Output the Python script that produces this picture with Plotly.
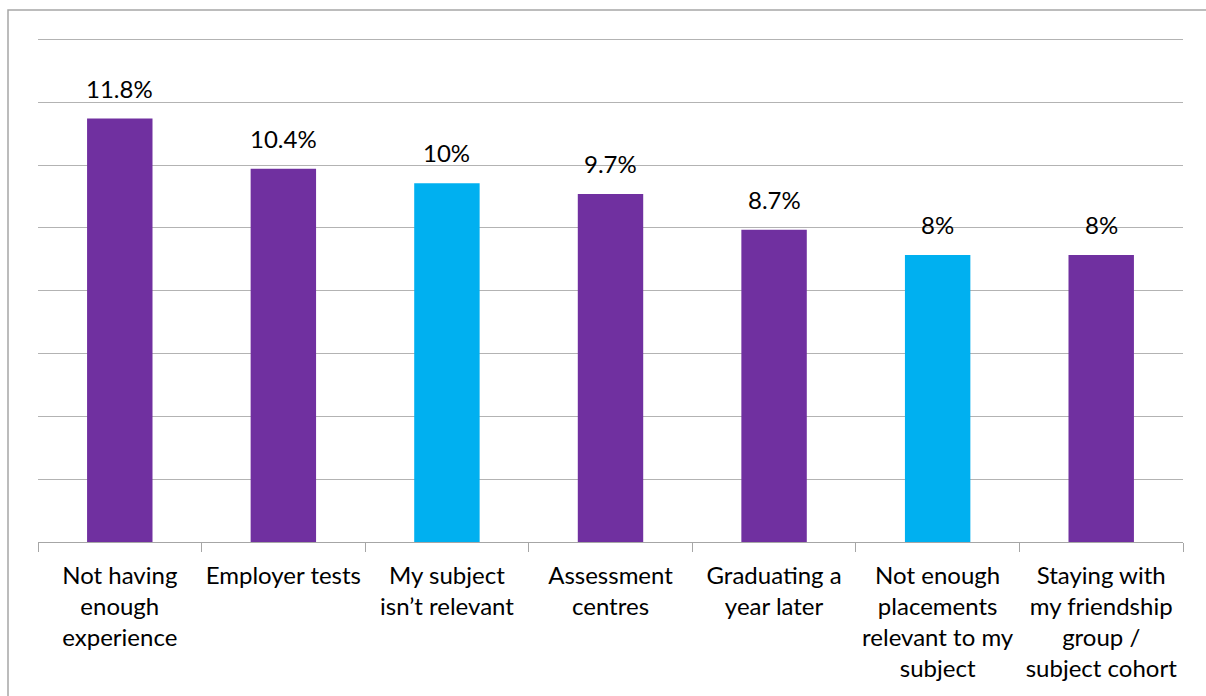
import plotly.graph_objects as go

categories = [
    "Not having<br>enough<br>experience",
    "Employer tests",
    "My subject<br>isn’t relevant",
    "Assessment<br>centres",
    "Graduating a<br>year later",
    "Not enough<br>placements<br>relevant to my<br>subject",
    "Staying with<br>my friendship<br>group /<br>subject cohort",
]
values = [11.8, 10.4, 10.0, 9.7, 8.7, 8.0, 8.0]
labels = ["11.8%", "10.4%", "10%", "9.7%", "8.7%", "8%", "8%"]
colors = ["#7030A0", "#7030A0", "#00B0F0", "#7030A0", "#7030A0", "#00B0F0", "#7030A0"]

FONT = "Lato, Noto Sans, sans-serif"

fig = go.Figure(
    go.Bar(
        x=categories,
        y=values,
        marker=dict(color=colors, line=dict(width=0)),
        hoverinfo="skip",
    )
)

annotations = [
    dict(
        x=c, y=v, text=t, xref="x", yref="y",
        showarrow=False, yanchor="bottom", yshift=14,
        font=dict(family=FONT, size=24, color="#000000"),
    )
    for c, v, t in zip(categories, values, labels)
]

fig.update_layout(
    width=1206,
    height=696,
    margin=dict(l=38, r=23, t=36, b=154),
    paper_bgcolor="white",
    plot_bgcolor="white",
    font=dict(family=FONT, size=24, color="#000000"),
    bargap=0.6,
    showlegend=False,
    annotations=annotations,
    xaxis=dict(
        type="category",
        tickson="boundaries",
        ticks="outside",
        ticklen=9,
        tickcolor="#A6A6A6",
        tickwidth=1,
        tickangle=0,
        ticklabelstandoff=12,
        automargin=False,
        showline=True,
        linecolor="#A6A6A6",
        linewidth=1,
        showgrid=False,
        tickfont=dict(size=24),
        fixedrange=True,
    ),
    yaxis=dict(
        range=[0, 14.1],
        dtick=1.75,
        tick0=0,
        showticklabels=False,
        showgrid=True,
        gridcolor="#B3B3B3",
        gridwidth=1,
        zeroline=False,
        showline=False,
        automargin=False,
        fixedrange=True,
    ),
    shapes=[
        dict(
            type="rect",
            xref="paper",
            yref="paper",
            x0=(8 - 38) / 1145,
            x1=(1215 - 38) / 1145,
            y0=(542 - 710) / 506,
            y1=(542 - 10) / 506,
            line=dict(color="#A6A6A6", width=1.5),
            fillcolor="rgba(0,0,0,0)",
            layer="below",
        )
    ],
)

fig.write_html("out.html")
